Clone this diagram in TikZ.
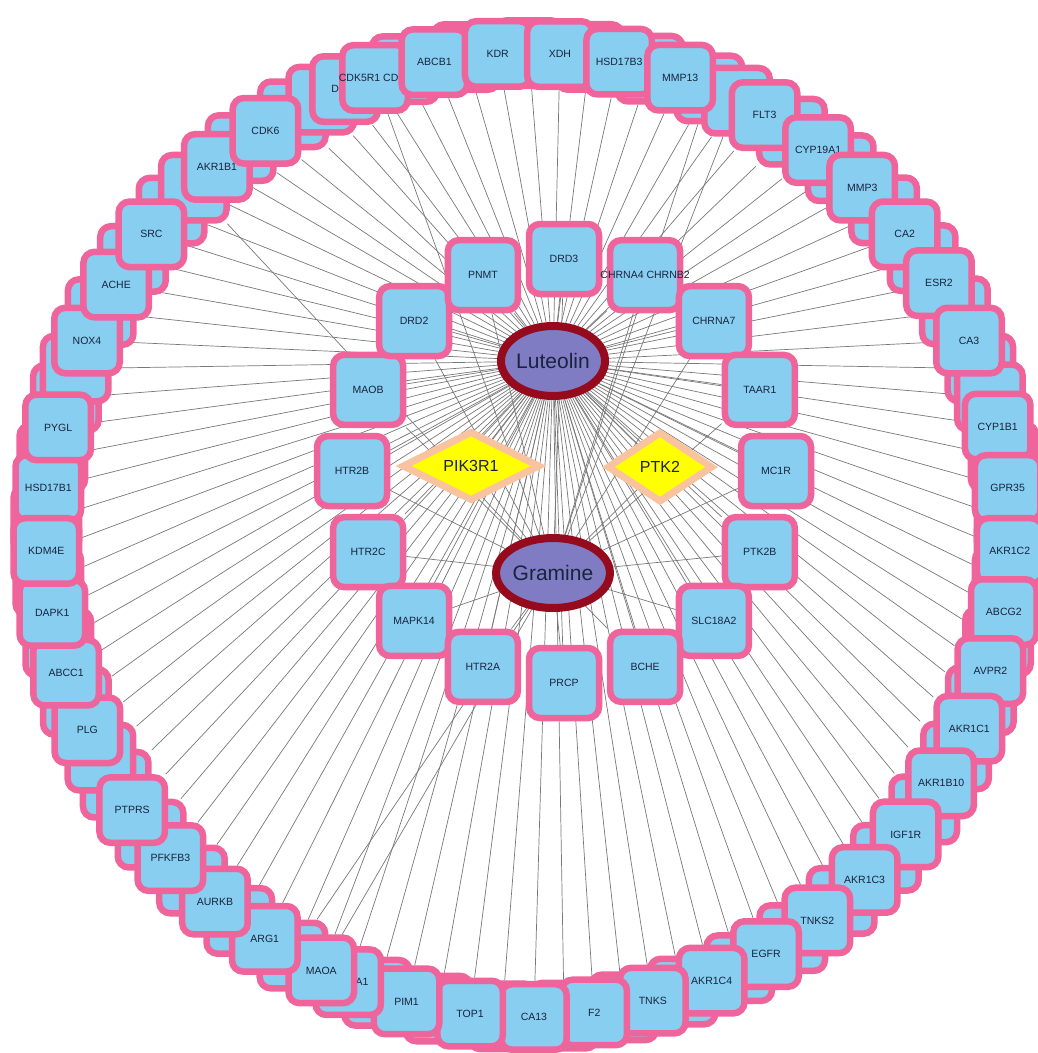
\documentclass[tikz,border=0pt]{standalone}
\usepackage{fontspec}
\setmainfont{Liberation Sans}
\usetikzlibrary{shapes.geometric}
\pgfdeclarelayer{bg}
\pgfsetlayers{bg,main}
\definecolor{boxfill}{RGB}{135,206,240}
\definecolor{boxline}{RGB}{238,100,155}
\definecolor{txt}{RGB}{25,35,60}
\definecolor{ellfill}{RGB}{128,124,196}
\definecolor{ellline}{RGB}{150,10,30}
\definecolor{dmfill}{RGB}{255,255,0}
\definecolor{dmline}{RGB}{250,195,160}
\definecolor{edgecol}{RGB}{120,120,120}
\newcommand\lbl[1]{\makebox[0pt]{#1}}
\begin{document}
\begin{tikzpicture}[x=1pt,y=-1pt,
  tbox/.style={draw=boxline, fill=boxfill, line width=6.5pt, rounded corners=11pt, minimum size=65.5pt, inner sep=0pt, text=txt, font=\fontsize{10.5}{12}\selectfont},
  ibox/.style={tbox, minimum size=70pt},
  compound/.style={ellipse, draw=ellline, fill=ellfill, line width=8pt, minimum width=99pt, minimum height=70pt, inner sep=0pt, text=txt, font=\fontsize{21}{24}\selectfont},
  hub/.style={diamond, draw=dmline, fill=dmfill, line width=7pt, inner sep=0pt, text=txt, font=\fontsize{16}{19}\selectfont},
  link/.style={draw=edgecol, line width=0.7pt}]
\useasboundingbox (0,0) rectangle (1037,1053);
% outer ring: boxes lying behind the others
\foreach \a [count=\i] in {178.15, 170.75, 163.5, 159.8, 152.45, 145.05, 137.7, 133.9, 126.6, 119.2, 115.4, 104.85, 97.4, 89.9, 82.65, 75.35, 67.9, 64.3, 56.8, 49.55, 42.35, 35.05, 27.65, 20.2, 16.6, 9.3, 1.85, -5.55, -12.8, -20.05, -27.35, -34.7, -42.05, -49.4, -56.75, -64.0, -71.3, -78.55, -85.7, -93.1, -100.75, -108.25, -119.25, -126.8, -134.2, -141.55, -148.8, -152.5, -159.75, -167.05, -174.4}
  \node[tbox] (h\i) at ({528+482*cos(\a)},{535-482*sin(\a)}) {};
% outer ring: labelled boxes, clockwise
\foreach \a/\t [count=\i] in {174.4/HSD17B1, 167.1/PYGL, 156.2/NOX4, 148.7/ACHE, 141.4/SRC, 130.2/AKR1B1, 123.0/CDK6, 112.3/{D\phantom{PP4}}, 108.5/{CDK5R1 CD\phantom{K5}}, 101.2/ABCB1, 93.6/KDR, 86.2/XDH, 79.1/HSD17B3, 71.6/MMP13, 60.6/FLT3, 53.0/CYP19A1, 46.1/MMP3, 38.6/CA2, 31.5/ESR2, 23.8/CA3, 13.0/CYP1B1, 5.6/GPR35, -1.9/AKR1C2, -9.2/ABCG2, -16.4/AVPR2, -23.7/AKR1C1, -31.0/AKR1B10, -38.4/IGF1R, -45.7/AKR1C3, -53.1/TNKS2, -60.4/EGFR, -67.6/AKR1C4, -75.0/TNKS, -82.1/F2, -89.3/CA13, -96.9/TOP1, -104.6/PIM1, -111.9/{\phantom{CYP1}A1}, -115.4/MAOA, -123.1/ARG1, -130.5/AURKB, -137.9/PFKFB3, -145.2/PTPRS, -156.1/PLG, -163.4/ABCC1, -170.7/DAPK1, -178.1/KDM4E}
  \node[tbox] (v\i) at ({528+482*cos(\a)},{535-482*sin(\a)}) {\lbl{\t}};
% inner ring
\foreach \a/\t/\n in {180/HTR2B/htrb, 157.5/MAOB/maob, 135/DRD2/drd2, 112.5/PNMT/pnmt, 90/DRD3/drd3, 67.5/{CHRNA4 CHRNB2}/chrna, 45/CHRNA7/chrnb, 22.5/TAAR1/taar, 0/MC1R/mcr, -22.5/PTK2B/ptkb, -45/SLC18A2/slc, -67.5/BCHE/bche, -90/PRCP/prcp, -157.5/HTR2C/htrc, -135/MAPK14/mapk, -112.5/HTR2A/htra}
  \node[ibox] (\n) at ({564+212*cos(\a)},{471-212*sin(\a)}) {\lbl{\t}};
% hubs and compounds
\node[hub, minimum width=138pt, minimum height=70pt] (pik) at (471,466) {PIK3R1};
\node[hub, minimum width=106pt, minimum height=71pt] (ptk) at (660,467) {PTK2};
\node[compound] (lut) at (553,361) {Luteolin};
\node[compound] (gra) at (553,573) {Gramine};
% edges
\begin{pgfonlayer}{bg}
\foreach \i in {1,...,51} \draw[link] (h\i) -- (lut);
\foreach \i in {1,...,47} \draw[link] (v\i) -- (lut);
\foreach \n in {h8,v9,h17,h18,v39,h43} \draw[link] (\n) -- (gra);
\foreach \n in {htrb,maob,drd2,pnmt,drd3,chrna,chrnb,taar,mcr,ptkb,slc,bche,prcp,htrc,mapk,htra,pik,ptk} {
  \draw[link] (\n) -- (lut);
  \draw[link] (\n) -- (gra);
}
\end{pgfonlayer}
\end{tikzpicture}
\end{document}
